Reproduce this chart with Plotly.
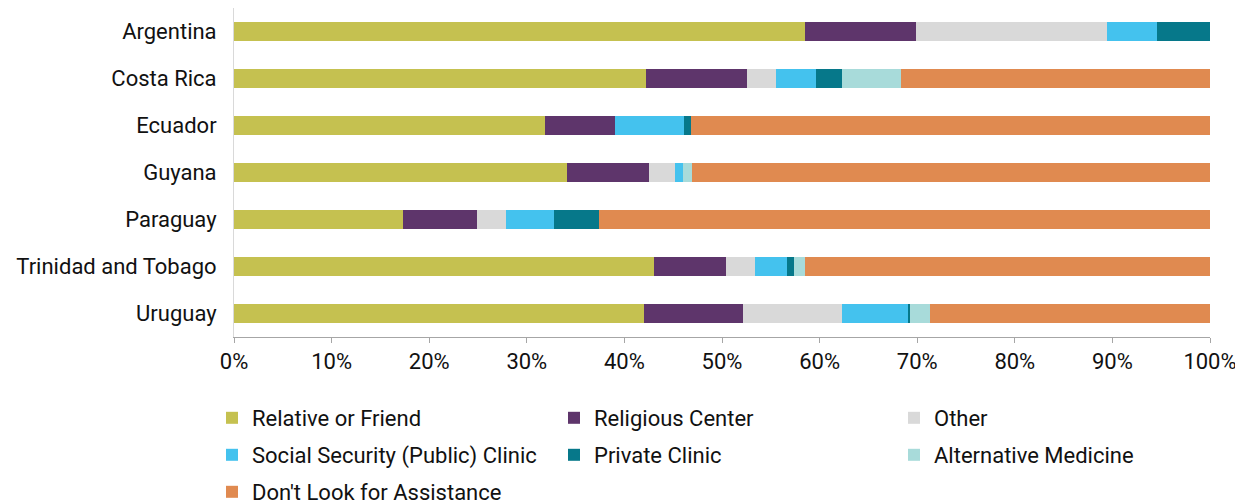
import plotly.graph_objects as go

countries = ["Argentina", "Costa Rica", "Ecuador", "Guyana", "Paraguay",
             "Trinidad and Tobago", "Uruguay"]

relative_or_friend = [58.5, 42.2, 31.9, 34.1, 17.3, 43.0, 42.0]
religious_center = [11.4, 10.4, 7.1, 8.4, 7.6, 7.4, 10.2]
other = [19.5, 2.9, 0.0, 2.7, 3.0, 3.0, 10.1]
social_security_clinic = [5.2, 4.1, 7.1, 0.8, 4.9, 3.3, 6.8]
private_clinic = [5.4, 2.7, 0.7, 0.0, 4.6, 0.7, 0.2]
alternative_medicine = [0.0, 6.0, 0.0, 0.9, 0.0, 1.1, 2.0]
dont_look = [0.0, 31.7, 53.2, 53.1, 62.6, 41.5, 28.7]

series_names = ["Relative or Friend", "Religious Center", "Other",
                "Social Security (Public) Clinic", "Private Clinic",
                "Alternative Medicine", "Don't Look for Assistance"]
series_values = [relative_or_friend, religious_center, other,
                 social_security_clinic, private_clinic,
                 alternative_medicine, dont_look]
colors = ["#C5C150", "#5E356B", "#D9D9D9", "#44C2EE", "#06788A", "#A8DBDA", "#E08A50"]

FONT = "Roboto"
FS = 22
# page has an 8px body margin, so the figure is drawn 8px in from the top-left
W, H = 1235, 496
plot_top, plot_bot = 0, 329
plot_left, plot_right = 226, 1202

col_x = [204, 546, 886]
row_y = [410, 447, 484]

fig = go.Figure()
legend_layout = {}
for i, (name, vals, color) in enumerate(zip(series_names, series_values, colors)):
    lg = "legend" if i == 0 else f"legend{i + 1}"
    fig.add_trace(go.Bar(
        y=countries, x=[v / 100 for v in vals], name=name, orientation="h",
        marker=dict(color=color, line=dict(width=0)), legend=lg, showlegend=True,
    ))
    r, c = divmod(i, 3)
    legend_layout[lg] = dict(
        xref="container", yref="container",
        x=col_x[c] / W, y=1 - row_y[r] / H,
        xanchor="left", yanchor="middle", orientation="h",
        font=dict(family=FONT, size=FS, color="#111111"),
        bgcolor="rgba(0,0,0,0)", itemclick=False, borderwidth=0,
        visible=True,
    )

fig.update_layout(
    width=W, height=H, showlegend=True,
    margin=dict(l=plot_left, r=W - plot_right, t=plot_top, b=H - plot_bot),
    barmode="stack", bargap=0.58,
    plot_bgcolor="white", paper_bgcolor="white",
    font=dict(family=FONT, size=FS, color="#111111"),
    xaxis=dict(range=[0, 1], tickformat=".0%", tickvals=[i / 10 for i in range(11)],
               showgrid=False, zeroline=False, showline=True, linecolor="#A6A6A6",
               linewidth=1, ticks="outside", ticklen=5, tickcolor="#A6A6A6",
               automargin=False,
               tickfont=dict(family=FONT, size=FS, color="#111111")),
    yaxis=dict(categoryorder="array", categoryarray=countries[::-1],
               showgrid=False, showline=True, linecolor="#D9D9D9", linewidth=1,
               ticks="", ticklabelstandoff=12, automargin=False,
               tickfont=dict(family=FONT, size=FS, color="#111111")),
    **legend_layout,
)

fig.write_html("out.html")
